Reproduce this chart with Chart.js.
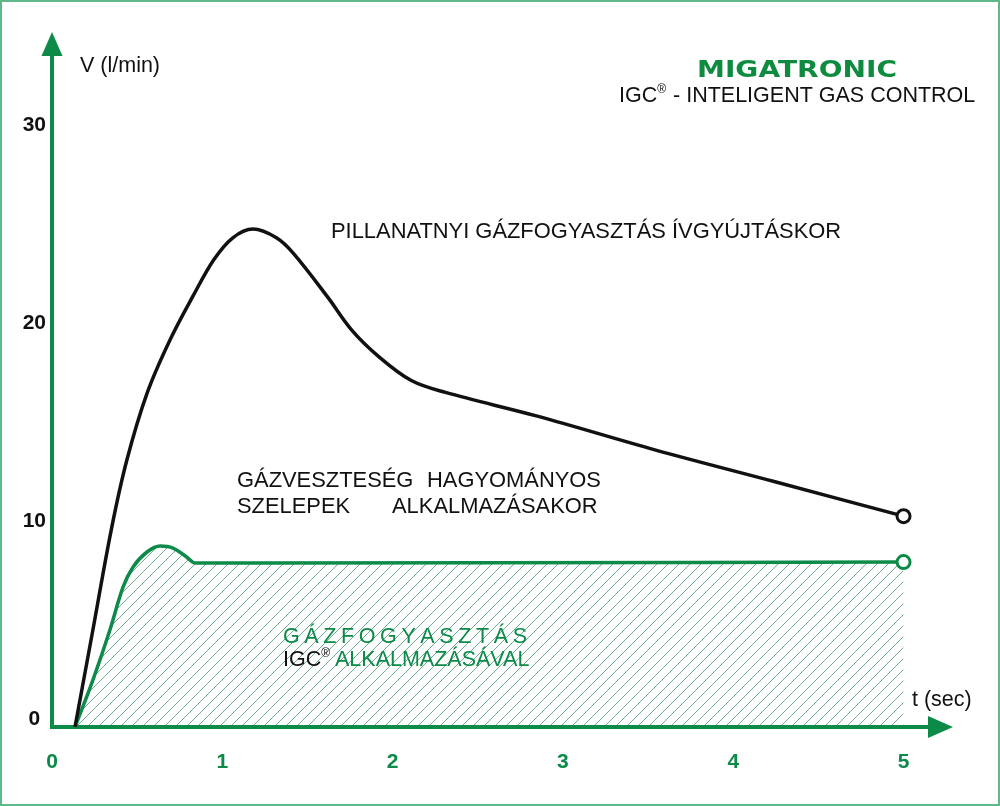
<!DOCTYPE html>
<html><head><meta charset="utf-8">
<script src="https://cdn.jsdelivr.net/npm/chart.js@4/dist/chart.umd.min.js"></script>
<style>html,body{margin:0;padding:0;background:#fff}#wrap{width:1000px;height:806px;position:relative}</style>
</head><body><div id="wrap"><canvas id="c"></canvas></div>
<script>
// ---- data ----
const xTicks = [0, 1, 2, 3, 4, 5];
const yTicks = [0, 10, 20, 30];
const blackT = [0.135, 0.24, 0.35, 0.44, 0.56, 0.69, 0.83, 0.95, 1.06, 1.18, 1.32, 1.42, 1.62, 1.76, 1.92, 2.11, 2.31, 2.85, 3.54, 4.24, 5.0];
const blackV = [0, 4.9, 10.05, 13.5, 16.9, 19.5, 21.8, 23.6, 24.7, 25.15, 24.7, 23.9, 21.7, 20.05, 18.7, 17.5, 16.9, 15.7, 14.0, 12.4, 10.65];
const greenT = [0.135, 0.24, 0.34, 0.417, 0.476, 0.558, 0.635, 0.71, 0.79, 0.84, 1.22, 5.0];
const greenV = [0, 2.37, 4.9, 7.07, 8.08, 8.84, 9.14, 9.04, 8.59, 8.28, 8.28, 8.33];
const yAxisLabel = 'V (l/min)';
const xAxisLabel = 't (sec)';
const brand = 'MIGATRONIC';
const subtitleA = 'IGC', subtitleB = ' - INTELIGENT GAS CONTROL';
const blackLabel = 'PILLANATNYI GÁZFOGYASZTÁS ÍVGYÚJTÁSKOR';
const lossLine1 = ['GÁZVESZTESÉG', 'HAGYOMÁNYOS'];
const lossLine2 = ['SZELEPEK', 'ALKALMAZÁSAKOR'];
const greenLabel1 = 'GÁZFOGYASZTÁS';
const greenLabel2A = 'IGC', greenLabel2B = 'ALKALMAZÁSÁVAL';

// ---- styles ----
const GREEN = '#0b8a48';
const LOGO = '#0e8b3f';
const FONT = '"Liberation Sans", Arial, sans-serif';

function hatch() {
  const c = document.createElement('canvas');
  c.width = 11; c.height = 11;
  const g = c.getContext('2d');
  g.strokeStyle = 'rgba(25,125,80,0.62)';
  g.lineWidth = 1;
  g.beginPath();
  g.moveTo(0, 11); g.lineTo(11, 0);
  g.moveTo(-1, 1); g.lineTo(1, -1);
  g.moveTo(10, 12); g.lineTo(12, 10);
  g.stroke();
  return g.createPattern(c, 'repeat');
}

const lastOnly = (arr, r) => arr.map((_, i) => i === arr.length - 1 ? r : 0);

const decor = {
  id: 'decor',
  afterDraw(chart) {
    const ctx = chart.ctx;
    const a = chart.chartArea;
    ctx.save();
    // arrowheads
    ctx.fillStyle = GREEN;
    ctx.beginPath();
    ctx.moveTo(a.left, a.top - 12);
    ctx.lineTo(a.left - 10.5, a.top + 12);
    ctx.lineTo(a.left + 10.5, a.top + 12);
    ctx.closePath(); ctx.fill();
    ctx.beginPath();
    ctx.moveTo(a.right + 12, a.bottom);
    ctx.lineTo(a.right - 13, a.bottom - 11);
    ctx.lineTo(a.right - 13, a.bottom + 11);
    ctx.closePath(); ctx.fill();

    const t = (s, x, y, size, color, weight) => {
      ctx.font = (weight || 'normal') + ' ' + size + 'px ' + FONT;
      ctx.fillStyle = color;
      ctx.textAlign = 'left';
      ctx.textBaseline = 'alphabetic';
      ctx.fillText(s, x, y);
      return ctx.measureText(s).width;
    };
    const S = 21.5, S2 = 21.9;
    t(yAxisLabel, 80, 72, S, '#111');
    t(xAxisLabel, 912, 706, S, '#111');

    // brand
    ctx.save();
    ctx.font = 'bold 23px "DejaVu Sans", ' + FONT;
    const bw = ctx.measureText(brand).width;
    ctx.translate(697, 77);
    ctx.scale(200 / bw, 1);
    ctx.fillStyle = LOGO;
    ctx.textAlign = 'left';
    ctx.fillText(brand, 0, 0);
    ctx.restore();

    // subtitle
    let x = 619;
    x += t(subtitleA, x, 102, S, '#111');
    x += t('®', x, 93, 12, '#111') + 1;
    t(subtitleB, x, 102, S, '#111');

    t(blackLabel, 331, 238, S2, '#111');
    t(lossLine1[0], 237, 487, S2, '#111');
    t(lossLine1[1], 427, 487, S2, '#111');
    t(lossLine2[0], 237, 513, S2, '#111');
    t(lossLine2[1], 392, 513, S2, '#111');

    // spaced green label
    ctx.font = 'normal ' + S + 'px ' + FONT;
    const letters = Array.from(greenLabel1);
    const ws = letters.map(l => ctx.measureText(l).width);
    const total = ws.reduce((p, q) => p + q, 0);
    const gap = (527 - 283 - total) / (letters.length - 1);
    let lx = 283;
    letters.forEach((l, i) => { t(l, lx, 643, S, GREEN); lx += ws[i] + gap; });

    let x2 = 283;
    x2 += t(greenLabel2A, x2, 666, S, '#111');
    t('®', x2, 657, 12, '#111');
    t(greenLabel2B, 335, 666, S, GREEN);

    // frame
    ctx.strokeStyle = '#5fb98b';
    ctx.lineWidth = 2;
    ctx.strokeRect(1, 1, 998, 804);
    ctx.restore();
  }
};

const chart = new Chart(document.getElementById('c'), {
  type: 'line',
  data: {
    datasets: [
      {
        data: blackT.map((x, i) => ({ x, y: blackV[i] })),
        borderColor: '#111', borderWidth: 3.5, fill: false,
        tension: 0.35,
        pointRadius: lastOnly(blackT, 6.5), pointBorderWidth: 3,
        pointBackgroundColor: '#fff', pointBorderColor: '#111'
      },
      {
        data: greenT.map((x, i) => ({ x, y: greenV[i] })),
        borderColor: GREEN, borderWidth: 3.5, fill: 'origin',
        backgroundColor: hatch(),
        cubicInterpolationMode: 'monotone',
        pointRadius: lastOnly(greenT, 6.5), pointBorderWidth: 3,
        pointBackgroundColor: '#fff', pointBorderColor: GREEN
      }
    ]
  },
  options: {
    responsive: true, maintainAspectRatio: false, animation: false, events: [],
    layout: { padding: { top: 44, right: 59, left: 0, bottom: 0 } },
    plugins: { legend: { display: false }, tooltip: { enabled: false } },
    scales: {
      x: {
        type: 'linear', min: 0, max: 5.22,
        afterBuildTicks: s => { s.ticks = xTicks.map(v => ({ value: v })); },
        afterFit: s => { s.height = 79; },
        grid: { display: false, drawTicks: false },
        border: { display: true, color: GREEN, width: 4 },
        ticks: { color: GREEN, font: { family: FONT, size: 21, weight: 'bold' }, padding: 23, maxRotation: 0, autoSkip: false }
      },
      y: {
        type: 'linear', min: 0, max: 34.5,
        afterBuildTicks: s => { s.ticks = yTicks.map(v => ({ value: v })); },
        afterFit: s => { s.width = 52; },
        grid: { display: false, drawTicks: false },
        border: { display: true, color: GREEN, width: 4 },
        ticks: { color: '#111', font: { family: FONT, size: 21, weight: 'bold' }, padding: 6, crossAlign: 'center', labelOffset: -8, autoSkip: false }
      }
    }
  },
  plugins: [decor]
});
</script></body></html>
